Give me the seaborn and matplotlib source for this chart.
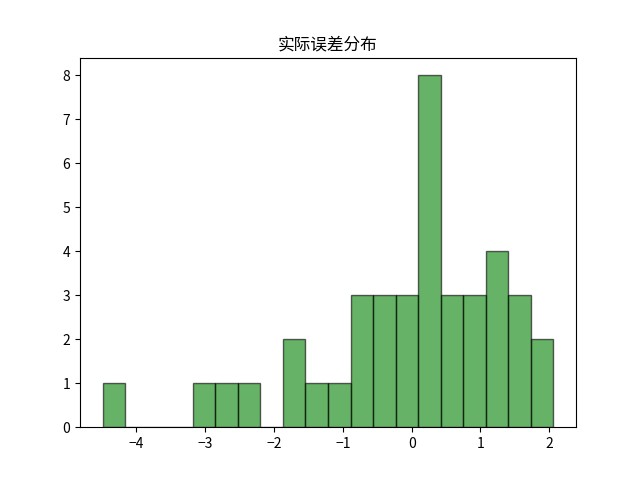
import numpy as np
import pandas as pd
import matplotlib
matplotlib.use('Agg')
import matplotlib.pyplot as plt
import seaborn as sns

bin_edges = np.linspace(-4.49, 2.06, 21)
bin_counts = [1, 0, 0, 0, 1, 1, 1, 0, 2, 1, 1, 3, 3, 3, 8, 3, 3, 4, 3, 2]
bin_centers = (bin_edges[:-1] + bin_edges[1:]) / 2

df = pd.DataFrame({'error': bin_centers, 'count': bin_counts})

plt.rcParams['font.family'] = ['Noto Sans CJK SC', 'DejaVu Sans']

fig, ax = plt.subplots(figsize=(6.4, 4.8), dpi=100)
sns.histplot(data=df, x='error', weights='count', bins=list(bin_edges), color='green',
             alpha=0.6, edgecolor=(0, 0, 0, 0.6), linewidth=1, ax=ax)
ax.set_title('实际误差分布')
ax.set_xlabel('')
ax.set_ylabel('')
fig.savefig('out.png')
